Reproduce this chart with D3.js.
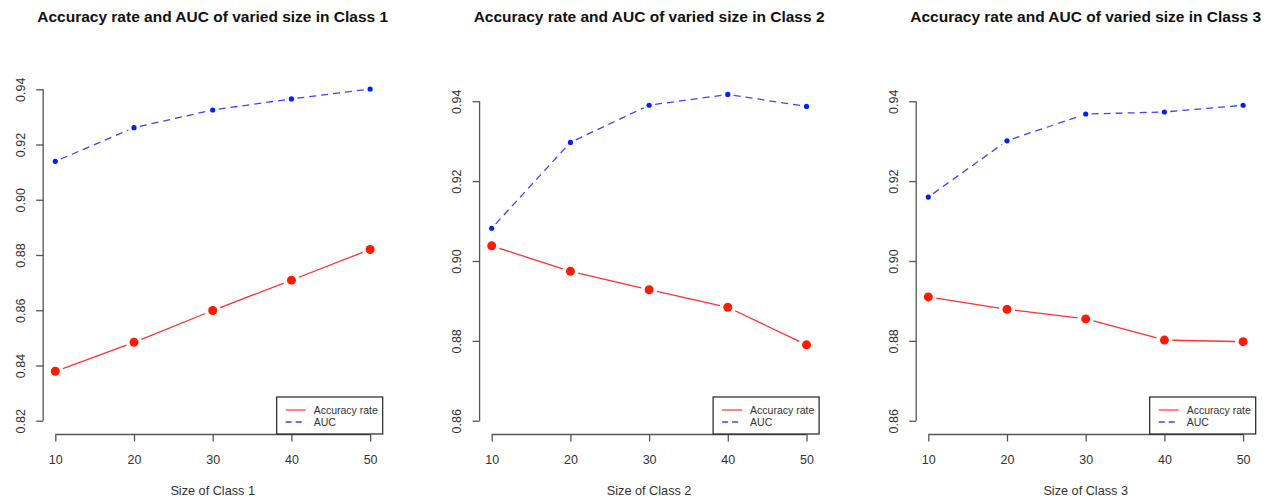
<html>
<head>
<meta charset="utf-8">
<script src="https://d3js.org/d3.v7.min.js"></script>
<style>
body {margin: 0; background: white;}
text {font-family: "Liberation Sans", Arial, sans-serif;}
</style>
</head>
<body>
<div id="chart"></div>
<script>
// data
var sizes = [10, 20, 30, 40, 50];
var xTicks = [10, 20, 30, 40, 50];

var acc1 = [0.8379, 0.8484, 0.8599, 0.8709, 0.8820];
var auc1 = [0.9139, 0.9261, 0.9325, 0.9365, 0.9401];
var acc2 = [0.9038, 0.8974, 0.8928, 0.8884, 0.8790];
var auc2 = [0.9082, 0.9297, 0.9390, 0.9417, 0.9387];
var acc3 = [0.8910, 0.8879, 0.8855, 0.8802, 0.8798];
var auc3 = [0.9160, 0.9301, 0.9368, 0.9373, 0.9390];

var yTicks1 = [0.82, 0.84, 0.86, 0.88, 0.90, 0.92, 0.94];
var yTicks23 = [0.86, 0.88, 0.90, 0.92, 0.94];

var titles = ["Accuracy rate and AUC of varied size in Class 1",
              "Accuracy rate and AUC of varied size in Class 2",
              "Accuracy rate and AUC of varied size in Class 3"];
var xLabels = ["Size of Class 1", "Size of Class 2", "Size of Class 3"];
var legendNames = ["Accuracy rate", "AUC"];

var panels = [
  {acc: acc1, auc: auc1, ylim: [0.82, 0.94], yTicks: yTicks1, left: 42.7},
  {acc: acc2, auc: auc2, ylim: [0.86, 0.943], yTicks: yTicks23, left: 479.1},
  {acc: acc3, auc: auc3, ylim: [0.86, 0.943], yTicks: yTicks23, left: 915.7}
];

var W = 1270, H = 497;
var plotW = 340, plotTop = 76, plotBottom = 434;
var axisCol = "#555";

var svg = d3.select("#chart")
  .append("svg")
    .attr("width", W)
    .attr("height", H);

// gapped segments like R type="b"
function gappedSegs(pts, gap) {
  var segs = [];
  for (var i = 0; i < pts.length - 1; i++) {
    var a = pts[i], b = pts[i + 1];
    var dx = b[0] - a[0], dy = b[1] - a[1];
    var len = Math.sqrt(dx * dx + dy * dy);
    if (len <= 2 * gap) continue;
    var ux = dx / len, uy = dy / len;
    segs.push([a[0] + ux * gap, a[1] + uy * gap, b[0] - ux * gap, b[1] - uy * gap]);
  }
  return segs;
}

panels.forEach(function(p, k) {
  var ext = 0.04 * (p.ylim[1] - p.ylim[0]);
  var x = d3.scaleLinear()
    .domain([8.4, 51.6])
    .range([p.left, p.left + plotW]);
  var y = d3.scaleLinear()
    .domain([p.ylim[0] - ext, p.ylim[1] + ext])
    .range([plotBottom, plotTop]);

  var g = svg.append("g");

  // title
  g.append("text")
    .attr("x", p.left + plotW / 2)
    .attr("y", 22)
    .attr("text-anchor", "middle")
    .style("font-size", "15.5px")
    .style("font-weight", "bold")
    .style("fill", "#111")
    .text(titles[k]);

  // x axis
  var xAxis = g.append("g")
    .attr("transform", "translate(0," + (plotBottom + 0.5) + ")")
    .call(d3.axisBottom(x).tickValues(xTicks).tickSize(7).tickPadding(14).tickSizeOuter(0));
  xAxis.select(".domain").remove();
  xAxis.append("line")
    .attr("x1", x(xTicks[0])).attr("x2", x(xTicks[xTicks.length - 1]))
    .attr("stroke", axisCol).attr("stroke-width", 1.3);
  xAxis.selectAll(".tick line").attr("stroke", axisCol).attr("stroke-width", 1.3);
  xAxis.selectAll(".tick text")
    .style("font-size", "12.5px")
    .style("fill", "#333")
    .style("font-family", "Liberation Sans, Arial, sans-serif");

  g.append("text")
    .attr("x", p.left + plotW / 2)
    .attr("y", 495)
    .attr("text-anchor", "middle")
    .style("font-size", "12.7px")
    .style("fill", "#333")
    .text(xLabels[k]);

  // y axis
  var yAxis = g.append("g")
    .attr("transform", "translate(" + (p.left + 0.5) + ",0)")
    .call(d3.axisLeft(y).tickValues(p.yTicks).tickFormat(d3.format(".2f")).tickSize(7).tickSizeOuter(0));
  yAxis.select(".domain").remove();
  yAxis.append("line")
    .attr("y1", y(p.yTicks[0])).attr("y2", y(p.yTicks[p.yTicks.length - 1]))
    .attr("stroke", axisCol).attr("stroke-width", 1.3);
  yAxis.selectAll(".tick line").attr("stroke", axisCol).attr("stroke-width", 1.3);
  yAxis.selectAll(".tick text")
    .attr("x", -23)
    .attr("dy", "0.35em")
    .attr("text-anchor", "middle")
    .attr("transform", "rotate(-90,-23,0)")
    .style("font-size", "12.5px")
    .style("fill", "#333")
    .style("font-family", "Liberation Sans, Arial, sans-serif");

  // accuracy series
  var accPts = sizes.map(function(s, i) { return [x(s), y(p.acc[i])]; });
  g.selectAll(".accSeg")
    .data(gappedSegs(accPts, 8))
    .enter().append("line")
      .attr("x1", function(d) { return d[0]; })
      .attr("y1", function(d) { return d[1]; })
      .attr("x2", function(d) { return d[2]; })
      .attr("y2", function(d) { return d[3]; })
      .attr("stroke", "#ff3030")
      .attr("stroke-width", 1.3);
  g.selectAll(".accPt")
    .data(accPts)
    .enter().append("circle")
      .attr("cx", function(d) { return d[0]; })
      .attr("cy", function(d) { return d[1]; })
      .attr("r", 4.5)
      .attr("fill", "#ff1a00");

  // AUC series
  var aucPts = sizes.map(function(s, i) { return [x(s), y(p.auc[i])]; });
  g.selectAll(".aucSeg")
    .data(gappedSegs(aucPts, 6))
    .enter().append("line")
      .attr("x1", function(d) { return d[0]; })
      .attr("y1", function(d) { return d[1]; })
      .attr("x2", function(d) { return d[2]; })
      .attr("y2", function(d) { return d[3]; })
      .attr("stroke", "#4040ff")
      .attr("stroke-width", 1.3)
      .attr("stroke-dasharray", "7,5");
  g.selectAll(".aucPt")
    .data(aucPts)
    .enter().append("circle")
      .attr("cx", function(d) { return d[0]; })
      .attr("cy", function(d) { return d[1]; })
      .attr("r", 2.6)
      .attr("fill", "#0020ff");

  // legend
  var lw = 106, lh = 37;
  var lx = p.left + plotW - lw, ly = plotBottom - lh;
  var leg = g.append("g");
  leg.append("rect")
    .attr("x", lx).attr("y", ly)
    .attr("width", lw).attr("height", lh)
    .attr("fill", "white")
    .attr("stroke", "#222")
    .attr("stroke-width", 1.2);
  leg.append("line")
    .attr("x1", lx + 9).attr("x2", lx + 29)
    .attr("y1", ly + 13).attr("y2", ly + 13)
    .attr("stroke", "#ff4040").attr("stroke-width", 1.3);
  leg.append("line")
    .attr("x1", lx + 9).attr("x2", lx + 29)
    .attr("y1", ly + 25).attr("y2", ly + 25)
    .attr("stroke", "#4040ff").attr("stroke-width", 1.3)
    .attr("stroke-dasharray", "6,4");
  leg.selectAll(".legText")
    .data(legendNames)
    .enter().append("text")
      .attr("x", lx + 37)
      .attr("y", function(d, i) { return ly + 13 + i * 12; })
      .attr("dy", "0.35em")
      .style("font-size", "10.5px")
      .style("fill", "#333")
      .text(function(d) { return d; });
});
</script>
</body>
</html>
